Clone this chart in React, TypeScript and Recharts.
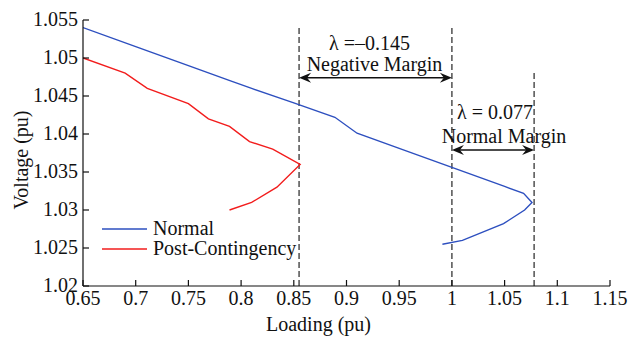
import React from 'react';
import { Line, LineChart, ReferenceLine, XAxis, YAxis } from 'recharts';

// curve values
const normalLoading = [0.65, 0.7, 0.75, 0.79, 0.81, 0.85, 0.889, 0.91, 0.95, 1.0, 1.05, 1.068, 1.076, 1.069, 1.049, 1.01, 0.991];
const normalVoltage = [1.054, 1.0515, 1.049, 1.047, 1.046, 1.0441, 1.0422, 1.0401, 1.0381, 1.0356, 1.0331, 1.0322, 1.031, 1.03, 1.0282, 1.026, 1.0255];
const postLoading = [0.65, 0.69, 0.711, 0.75, 0.769, 0.789, 0.808, 0.83, 0.856, 0.834, 0.81, 0.789];
const postVoltage = [1.05, 1.048, 1.046, 1.044, 1.042, 1.041, 1.039, 1.038, 1.036, 1.033, 1.031, 1.03];

const xTicks = [0.65, 0.7, 0.75, 0.8, 0.85, 0.9, 0.95, 1, 1.05, 1.1, 1.15];
const yTicks = [1.02, 1.025, 1.03, 1.035, 1.04, 1.045, 1.05, 1.055];

// dashed limits: [loading, top voltage]
const limitLines: [number, number][] = [[0.855, 1.0541], [1.0, 1.0543], [1.078, 1.0484]];
// margin arrows: from, to, voltage, two text lines
const marginFrom = [0.855, 1.0];
const marginTo = [1.0, 1.078];
const marginLevel = [1.0474, 1.0379];
const marginLambda = ['λ =–0.145', 'λ = 0.077'];
const marginName = ['Negative Margin', 'Normal Margin'];

const seriesNames = ['Normal', 'Post-Contingency'];

const toRows = (xs: number[], ys: number[]) => xs.map((x, i) => ({ x, y: ys[i] }));
const normalData = toRows(normalLoading, normalVoltage);
const postData = toRows(postLoading, postVoltage);

const FONT = '"Liberation Serif", "Times New Roman", serif';
const FS = 20;
const BLUE = '#2d4fbf';
const RED = '#f21c1c';
const seriesColors = [BLUE, RED];

const arrowShape = (i: number) => (p: any) => {
  const { x1, x2, y1 } = p;
  const y = y1;
  const mid = (x1 + x2) / 2;
  return (
    <g>
      <line x1={x1 + 4} y1={y} x2={x2 - 4} y2={y} stroke="#111" strokeWidth={1.6} />
      <polygon points={`${x1},${y} ${x1 + 12},${y - 5} ${x1 + 8},${y} ${x1 + 12},${y + 5}`} fill="#111" />
      <polygon points={`${x2},${y} ${x2 - 12},${y - 5} ${x2 - 8},${y} ${x2 - 12},${y + 5}`} fill="#111" />
      <text x={mid + (i === 0 ? -6 : 2)} y={y - (i === 0 ? 28 : 31)} textAnchor="middle" fontFamily={FONT} fontSize={FS} fill="#111">
        {marginLambda[i]}
      </text>
      <text x={mid + (i === 0 ? -1 : 11)} y={y - 7} textAnchor="middle" fontFamily={FONT} fontSize={FS} fill="#111">
        {marginName[i]}
      </text>
    </g>
  );
};

const XTick = (p: any) => (
  <text x={p.x} y={p.y + 25} textAnchor="middle" fontFamily={FONT} fontSize={FS} fill="#111">
    {p.payload.value}
  </text>
);

const YTick = (p: any) => (
  <text x={78} y={p.y + 6} textAnchor="end" fontFamily={FONT} fontSize={FS} fill="#111">
    {p.payload.value}
  </text>
);

const App: React.FC = () => {
  return (
    <div style={{ position: 'absolute', left: 0, top: 0, width: 634, height: 343, background: '#fff' }}>
      <LineChart width={634} height={343} margin={{ top: 20, right: 24, bottom: 0, left: 0 }}>
        <XAxis
          type="number"
          dataKey="x"
          domain={[0.65, 1.15]}
          ticks={xTicks}
          allowDataOverflow
          height={57}
          tickSize={-6}
          tickMargin={0}
          stroke="#111"
          strokeWidth={1.2}
          tick={<XTick />}
          label={(props: any) => {
            const vb = props.viewBox;
            return (
              <text x={vb.x + vb.width / 2 - 28} y={331} textAnchor="middle" fontFamily={FONT} fontSize={FS} fill="#111">
                Loading (pu)
              </text>
            );
          }}
        />
        <YAxis
          type="number"
          dataKey="y"
          domain={[1.02, 1.055]}
          ticks={yTicks}
          allowDataOverflow
          width={83}
          tickSize={-6}
          tickMargin={0}
          stroke="#111"
          strokeWidth={1.2}
          tick={<YTick />}
          label={() => (
            <text x={28} y={160} transform="rotate(-90 28 160)" textAnchor="middle" fontFamily={FONT} fontSize={FS} fill="#111">
              Voltage (pu)
            </text>
          )}
        />
        {limitLines.map(([x, top], i) => (
          <ReferenceLine
            key={`lim${i}`}
            segment={[{ x, y: 1.02 }, { x, y: top }]}
            stroke="#444"
            strokeWidth={1.4}
            strokeDasharray="6 3"
            ifOverflow="visible"
          />
        ))}
        {marginFrom.map((from, i) => (
          <ReferenceLine
            key={`arr${i}`}
            segment={[{ x: from, y: marginLevel[i] }, { x: marginTo[i], y: marginLevel[i] }]}
            ifOverflow="visible"
            shape={arrowShape(i)}
          />
        ))}
        <Line data={normalData} dataKey="y" name={seriesNames[0]} stroke={BLUE} strokeWidth={1.4} dot={false} isAnimationActive={false} />
        <Line data={postData} dataKey="y" name={seriesNames[1]} stroke={RED} strokeWidth={1.4} dot={false} isAnimationActive={false} />
      </LineChart>
      <svg width={220} height={50} style={{ position: 'absolute', left: 100, top: 216 }}>
        {seriesNames.map((name, i) => (
          <g key={name}>
            <line x1={2} x2={47} y1={13 + i * 20} y2={13 + i * 20} stroke={seriesColors[i]} strokeWidth={1.5} />
            <text x={53} y={19 + i * 20} fontFamily={FONT} fontSize={FS} fill="#111">
              {name}
            </text>
          </g>
        ))}
      </svg>
    </div>
  );
};

export default App;
